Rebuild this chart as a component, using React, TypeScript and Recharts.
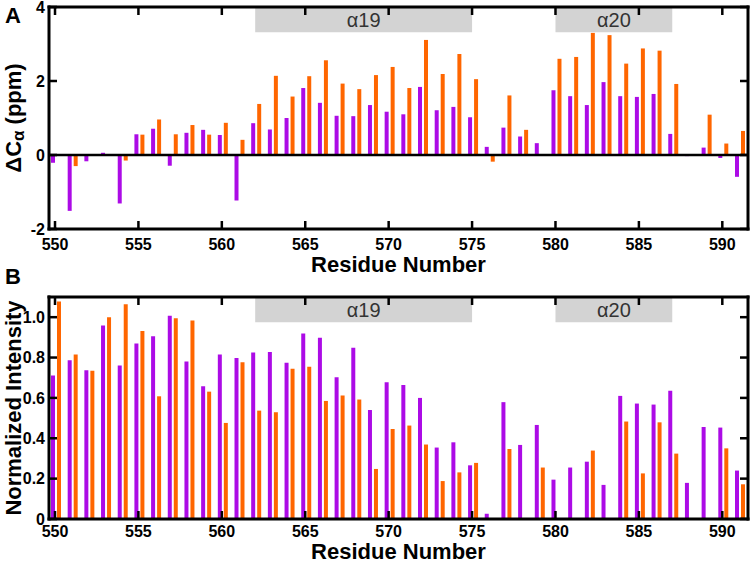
import { ComposedChart, Bar, XAxis, YAxis, ReferenceArea, ReferenceLine } from 'recharts'

const residues = [
  550, 551, 552, 553, 554, 555, 556, 557, 558, 559, 560, 561, 562, 563, 564, 565, 566, 567, 568, 569, 570,
  571, 572, 573, 574, 575, 576, 577, 578, 579, 580, 581, 582, 583, 584, 585, 586, 587, 588, 589, 590, 591,
]

// panel A, chemical shift difference (ppm)
const shiftPurple = [
  -0.21, -1.51, -0.17, 0.06, -1.31, 0.56, 0.71, -0.29, 0.6, 0.68, 0.54, -1.23, 0.86, 0.69, 1.0, 1.81, 1.41,
  1.06, 1.05, 1.35, 1.17, 1.1, 1.84, 1.21, 1.3, 1.02, 0.22, 0.74, 0.5, 0.32, 1.75, 1.59, 1.35, 1.97, 1.59,
  1.57, 1.65, 0.57, -0.03, 0.2, -0.08, -0.59,
]
const shiftOrange = [
  null, -0.3, null, null, -0.15, 0.55, 0.96, 0.56, 0.81, 0.55, 0.87, 0.41, 1.38, 2.14, 1.58, 2.13, 2.56,
  1.93, 1.78, 2.16, 2.38, 1.81, 3.11, 2.19, 2.73, 2.05, -0.18, 1.61, 0.68, null, 2.6, 2.65, 3.3, 3.24, 2.47,
  2.88, 2.82, 1.92, null, 1.09, 0.31, 0.65,
]

// panel B, normalized peak intensity
const intensityPurple = [
  0.711, 0.787, 0.737, 0.959, 0.76, 0.869, 0.906, 1.007, 0.78, 0.658, 0.815, 0.798, 0.825, 0.828, 0.774,
  0.919, 0.898, 0.702, 0.848, 0.54, 0.678, 0.664, 0.6, 0.354, 0.38, 0.266, 0.026, 0.579, 0.367, 0.466,
  0.195, 0.255, 0.284, 0.169, 0.61, 0.572, 0.567, 0.636, 0.179, 0.456, 0.453, 0.24,
]
const intensityOrange = [
  1.078, 0.815, 0.734, 1.0, 1.064, 0.932, 0.608, 0.995, 0.983, 0.631, 0.476, 0.777, 0.537, 0.529, 0.744,
  0.755, 0.585, 0.612, 0.592, 0.248, 0.446, 0.463, 0.369, 0.188, 0.231, 0.278, null, 0.347, null, 0.255,
  null, null, 0.339, null, 0.483, 0.226, 0.479, 0.324, null, null, 0.35, 0.172,
]

const xTicks = [550, 555, 560, 565, 570, 575, 580, 585, 590]
const shiftTicks = [-2, 0, 2, 4]
const intensityTicks = [0, 0.2, 0.4, 0.6, 0.8, 1.0]

const helixNames = ['α19', 'α20']
const helixStart = [562, 580]
const helixEnd = [575, 587]

const PURPLE = '#AC0BE6'
const ORANGE = '#FF6600'
const FONT = 'Liberation Sans, Arial, Helvetica, sans-serif'
const X_DOMAIN: [number, number] = [549.64, 591.54]
// bars sit ~1px right of the residue in the original, so the bar axis is nudged
const BAR_DOMAIN: [number, number] = [549.56, 591.46]
const TICK_LEN = 8
const Y_MARGIN = 4

const frame = { stroke: '#000', strokeWidth: 3, strokeLinecap: 'square' as const }
const tickFont = { fontSize: 16, fontWeight: 700, fill: '#000', fontFamily: FONT }

const shiftData = residues.map((r, i) => ({ residue: r, purple: shiftPurple[i], orange: shiftOrange[i] }))
const intensityData = residues.map((r, i) => ({ residue: r, purple: intensityPurple[i], orange: intensityOrange[i] }))

// ticks point into the plot; the label (if any) sits outside
function InwardTick(props: any) {
  const { x, y, payload, side, margin = 0, format } = props
  let line = { x1: x, y1: y, x2: x, y2: y }
  if (side === 'bottom') line = { x1: x, y1: y - margin, x2: x, y2: y - margin - TICK_LEN }
  if (side === 'top') line = { x1: x, y1: y, x2: x, y2: y + TICK_LEN }
  if (side === 'left') line = { x1: x + margin, y1: y, x2: x + margin + TICK_LEN, y2: y }
  if (side === 'right') line = { x1: x - TICK_LEN, y1: y, x2: x, y2: y }
  return (
    <g>
      <line {...line} stroke="#000" strokeWidth={2.5} />
      {format && side === 'bottom' && (
        <text x={x} y={y} dy="0.71em" textAnchor="middle" style={tickFont}>
          {format(payload.value)}
        </text>
      )}
      {format && side === 'left' && (
        <text x={x} y={y} dy="0.355em" textAnchor="end" style={tickFont}>
          {format(payload.value)}
        </text>
      )}
    </g>
  )
}

function YTitle({ viewBox, children }: { viewBox?: any; children: React.ReactNode }) {
  if (!viewBox) return null
  const x = viewBox.x + 13
  const y = viewBox.y + viewBox.height / 2
  return (
    <text
      transform={`translate(${x},${y}) rotate(-90)`}
      textAnchor="middle"
      dominantBaseline="central"
      style={{ fontSize: 22, fontWeight: 700, fill: '#000', fontFamily: FONT }}
    >
      {children}
    </text>
  )
}

type PanelProps = {
  data: { residue: number; purple: number | null; orange: number | null }[]
  height: number
  xAxisHeight: number
  xMargin: number
  titleOffset: number
  yDomain: [number, number]
  yTicks: number[]
  yFormat: (v: number) => string
  yTitle: React.ReactNode
  helixBottom: number
  zeroLine?: boolean
}

function Panel({ data, height, xAxisHeight, xMargin, titleOffset, yDomain, yTicks, yFormat, yTitle, helixBottom, zeroLine }: PanelProps) {
  return (
    <ComposedChart
      width={750}
      height={height}
      data={data}
      margin={{ top: 6, right: 1, bottom: 0, left: 0 }}
      barGap={2}
      barSize={4}
    >
      {helixNames.map((name, i) => (
        <ReferenceArea
          key={name}
          xAxisId="main"
          x1={helixStart[i]}
          x2={helixEnd[i]}
          y1={helixBottom}
          y2={yDomain[1]}
          fill="#D3D3D3"
          fillOpacity={1}
          stroke="none"
          ifOverflow="visible"
          label={{ value: name, position: 'center', fill: '#333', fontSize: 20, fontFamily: FONT }}
        />
      ))}

      <Bar dataKey="purple" xAxisId="bars" fill={PURPLE} isAnimationActive={false} />
      <Bar dataKey="orange" xAxisId="bars" fill={ORANGE} isAnimationActive={false} />

      {zeroLine && <ReferenceLine y={0} xAxisId="main" stroke="#000" strokeWidth={2.5} />}

      <XAxis
        xAxisId="main"
        dataKey="residue"
        type="number"
        domain={X_DOMAIN}
        allowDataOverflow
        ticks={xTicks}
        interval={0}
        height={xAxisHeight}
        tickSize={0}
        tickMargin={xMargin}
        tickLine={false}
        tick={<InwardTick side="bottom" margin={xMargin} format={(v: number) => String(v)} />}
        axisLine={frame}
        label={{
          value: 'Residue Number',
          position: 'insideBottom',
          offset: titleOffset,
          style: { fontSize: 22, fontWeight: 700, fill: '#000', fontFamily: FONT },
        }}
      />
      <XAxis
        xAxisId="top"
        orientation="top"
        dataKey="residue"
        type="number"
        domain={X_DOMAIN}
        allowDataOverflow
        ticks={xTicks}
        interval={0}
        height={1}
        tickSize={0}
        tickMargin={0}
        tickLine={false}
        tick={<InwardTick side="top" />}
        axisLine={frame}
      />
      <XAxis
        xAxisId="bars"
        dataKey="residue"
        type="number"
        domain={BAR_DOMAIN}
        allowDataOverflow
        height={0}
        hide
      />
      <YAxis
        yAxisId={0}
        domain={yDomain}
        allowDataOverflow
        ticks={yTicks}
        interval={0}
        width={49}
        tickSize={0}
        tickMargin={Y_MARGIN}
        tickLine={false}
        tick={<InwardTick side="left" margin={Y_MARGIN} format={yFormat} />}
        axisLine={frame}
        label={(props: any) => <YTitle {...props}>{yTitle}</YTitle>}
      />
      <YAxis
        yAxisId="right"
        orientation="right"
        domain={yDomain}
        allowDataOverflow
        ticks={yTicks}
        interval={0}
        width={1}
        tickSize={0}
        tickMargin={0}
        tickLine={false}
        tick={<InwardTick side="right" />}
        axisLine={frame}
      />
    </ComposedChart>
  )
}

const letterStyle: React.CSSProperties = {
  position: 'absolute',
  left: 5,
  fontSize: 22,
  fontWeight: 700,
  fontFamily: FONT,
  lineHeight: 1,
}

export default function App() {
  return (
    <div style={{ position: 'absolute', left: 0, top: 0, width: 750, height: 563, background: '#fff' }}>
      <div style={{ position: 'absolute', left: 0, top: 0 }}>
        <Panel
          data={shiftData}
          height={280}
          xAxisHeight={51}
          xMargin={10}
          titleOffset={8}
          yDomain={[-2, 4]}
          yTicks={shiftTicks}
          yFormat={(v) => String(v)}
          yTitle={
            <>
              ΔC<tspan fontSize={17} dy={5}>α</tspan>
              <tspan dy={-5}>{'  (ppm)'}</tspan>
            </>
          }
          helixBottom={3.32}
          zeroLine
        />
      </div>
      <div style={{ position: 'absolute', left: 0, top: 290 }}>
        <Panel
          data={intensityData}
          height={273}
          xAxisHeight={44}
          xMargin={7}
          titleOffset={4}
          yDomain={[0, 1.1]}
          yTicks={intensityTicks}
          yFormat={(v) => (v === 0 ? '0' : v.toFixed(1))}
          yTitle="Normalized Intensity"
          helixBottom={0.975}
        />
      </div>
      <div style={{ ...letterStyle, top: 5 }}>A</div>
      <div style={{ ...letterStyle, top: 266 }}>B</div>
    </div>
  )
}
